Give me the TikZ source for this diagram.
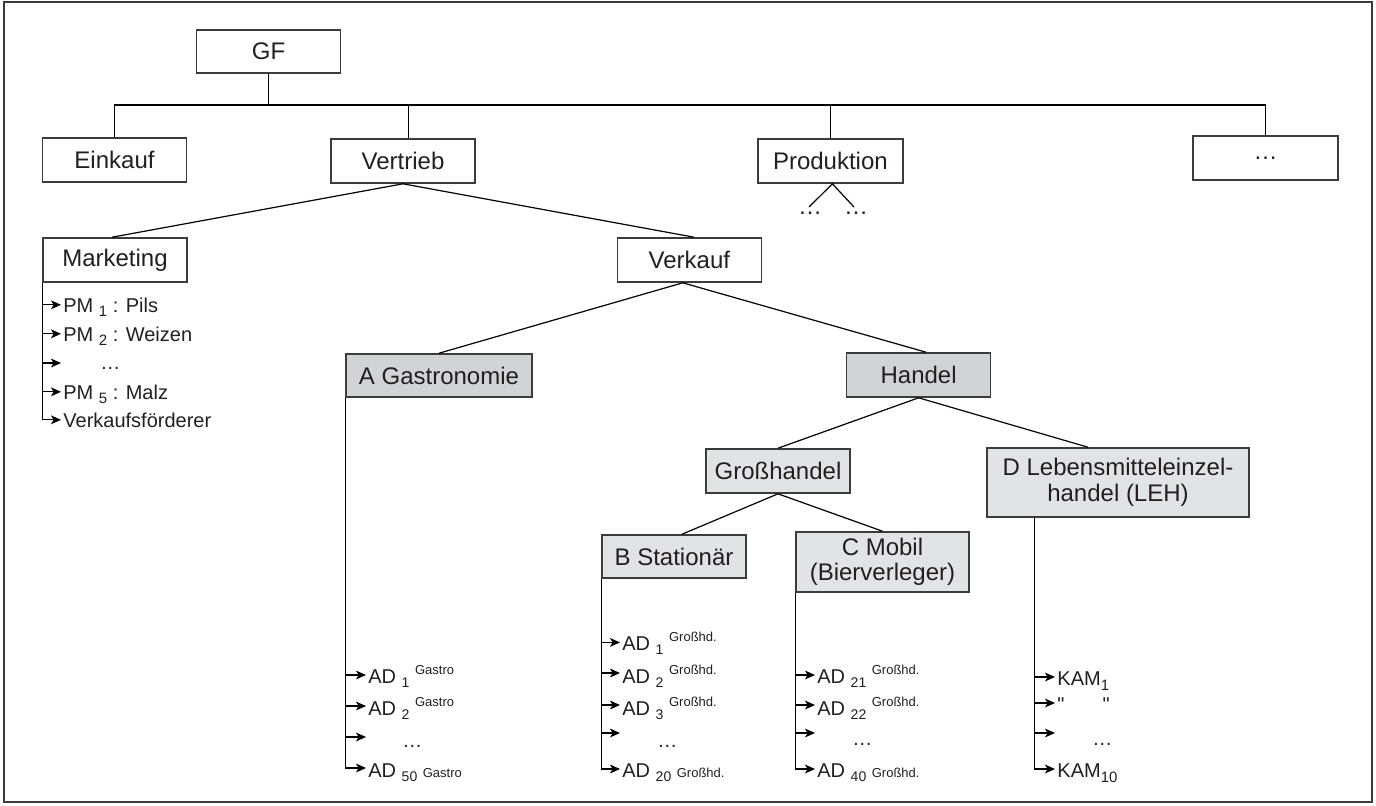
\documentclass[tikz,border=0pt]{standalone}
\usepackage{fontspec}
\setmainfont{Liberation Sans}
\newfontfamily\qf{Liberation Sans}
\usetikzlibrary{arrows.meta}
\definecolor{fa}{RGB}{209,211,212}
\definecolor{fb}{RGB}{226,227,228}
\definecolor{bc}{RGB}{60,60,60}
\definecolor{tc}{RGB}{35,31,32}
\newcommand\mysub[1]{\raisebox{-2pt}{\fontsize{7}{8}\selectfont #1}}
\newcommand\mysup[1]{\raisebox{4.5pt}{\fontsize{6.5}{7}\selectfont #1}}
\newcommand\mysm[1]{{\fontsize{6.5}{7}\selectfont #1}}
\newcommand\mysubp[1]{\raisebox{-2pt}{\fontsize{7.5}{8}\selectfont #1}}
\newcommand\mysubk[1]{\raisebox{-2.5pt}{\fontsize{7.5}{8}\selectfont #1}}
\begin{document}
\begin{tikzpicture}[x=0.5pt,y=-0.5pt,
  every node/.style={text=tc},
  box/.style={draw=bc, line width=0.8pt, inner sep=0pt, align=center, font=\fontsize{12}{12.5}\selectfont},
  con/.style={line width=0.6pt, draw=black},
  arr/.style={line width=0.6pt, draw=black, -{Stealth[length=5pt,width=4.4pt,inset=1.3pt]}},
  lst/.style={anchor=base west, inner sep=0pt, font=\fontsize{10}{11}\selectfont},
  dts/.style={anchor=base west, inner sep=0pt, font=\fontsize{10}{11}\selectfont},
]
\useasboundingbox (0,0) rectangle (1376,805);
\draw[line width=1pt, draw=bc] (4,2) rectangle (1372,802);

% boxes
\node[box, minimum width=72pt, minimum height=21.5pt] (GF) at (268.5,51.5) {GF};
\node[box, minimum width=72pt, minimum height=22pt] (Ein) at (114.5,160) {Einkauf};
\node[box, minimum width=72pt, minimum height=22pt] (Ver) at (403,161) {Vertrieb};
\node[box, minimum width=72.5pt, minimum height=22pt] (Prod) at (830.4,161) {Produktion};
\node[box, minimum width=72.5pt, minimum height=22pt] (Etc) at (1265.5,158) {\dots};
\node[box, minimum width=72pt, minimum height=22pt] (Mk) at (115,260) {Marketing};
\node[box, minimum width=72pt, minimum height=22pt] (Vk) at (689.4,260) {Verkauf};
\node[box, fill=fa, minimum width=93pt, minimum height=21.5pt] (AG) at (439,375.5) {A Gastronomie};
\node[box, fill=fa, minimum width=72pt, minimum height=22pt] (Ha) at (918.6,375) {Handel};
\node[box, fill=fb, minimum width=72pt, minimum height=22pt] (GH) at (778,471) {Großhandel};
\node[box, fill=fb, minimum width=72pt, minimum height=21.5pt] (BS) at (674,556.5) {B Stationär};
\node[box, fill=fb, minimum width=86.5pt, minimum height=30pt] (CM) at (882.5,562) {C Mobil\\(Bierverleger)};
\node[box, fill=fb, minimum width=131pt, minimum height=34.5pt, font=\fontsize{12}{13}\selectfont] (DL) at (1118,482.5) {D Lebensmitteleinzel-\\handel (LEH)};

% top bus
\coordinate (bus) at (0,105);
\draw[con] (GF.south) -- (GF.south |- bus);
\draw[con] (Ein.north) -- (Ein.north |- bus) -- (Etc.north |- bus) -- (Etc.north);
\draw[con] ([xshift=2.7pt]Ver.north) -- ([xshift=2.7pt]Ver.north |- bus);
\draw[con] (Prod.north) -- (Prod.north |- bus);

% tree edges
\draw[con] (Ver.south) -- ([xshift=-1.5pt]Mk.north);
\draw[con] (Ver.south) -- ([xshift=2.3pt]Vk.north);
\draw[con] ([xshift=-3.3pt]Vk.south) -- (AG.north);
\draw[con] ([xshift=-3.3pt]Vk.south) -- ([xshift=3.7pt]Ha.north);
\draw[con] (Ha.south) -- (GH.north);
\draw[con] (Ha.south) -- ([xshift=-15pt]DL.north);
\draw[con] (GH.south) -- ([xshift=4pt]BS.north);
\draw[con] (GH.south) -- (CM.north);

% Produktion dots
\node[anchor=base, inner sep=0pt, font=\fontsize{12}{13}\selectfont] (pd1) at (810,214) {\dots};
\node[anchor=base, inner sep=0pt, font=\fontsize{12}{13}\selectfont] (pd2) at (856,214) {\dots};
\draw[con] ([shift={(-0.5pt,3.5pt)}]pd1.base) -- ([xshift=1pt]Prod.south) -- ([shift={(-1pt,3.5pt)}]pd2.base);

% Marketing list
\node[lst] (m1) at (63,312) {PM \mysubp{1} : Pils};
\node[lst] (m2) at (63,341) {PM \mysubp{2} : Weizen};
\coordinate (m3a) at (61,363);
\node[dts] (m3) at (100,369) {\dots};
\node[lst] (m4) at (63,399) {PM \mysubp{5} : Malz};
\node[lst] (m5) at (63,427) {Verkaufsförderer};
\coordinate (m1a) at ([shift={(-1pt,3.6pt)}]m1.base west);
\coordinate (m2a) at ([shift={(-1pt,3.6pt)}]m2.base west);
\coordinate (m4a) at ([shift={(-1pt,3.6pt)}]m4.base west);
\coordinate (m5a) at ([shift={(-1pt,3.6pt)}]m5.base west);
\draw[arr] (Mk.south west) |- (m5a);
\draw[arr] (m1a -| Mk.south west) -- (m1a);
\draw[arr] (m2a -| Mk.south west) -- (m2a);
\draw[arr] (m3a -| Mk.south west) -- (m3a);
\draw[arr] (m4a -| Mk.south west) -- (m4a);

% Gastro list
\node[lst] (g1) at (368,683) {AD \mysub{1} \mysup{Gastro}};
\node[lst] (g2) at (368,715) {AD \mysub{2} \mysup{Gastro}};
\coordinate (g3a) at (366,737);
\node[dts] (g3) at (402,747) {\dots};
\node[lst] (g4) at (368,777) {AD \mysub{50} \mysm{Gastro}};
\coordinate (g1a) at ([shift={(-1pt,4pt)}]g1.base west);
\coordinate (g2a) at ([shift={(-1pt,4.5pt)}]g2.base west);
\coordinate (g4a) at ([shift={(-1pt,4.5pt)}]g4.base west);
\draw[arr] (AG.south west) |- (g4a);
\draw[arr] (g1a -| AG.south west) -- (g1a);
\draw[arr] (g2a -| AG.south west) -- (g2a);
\draw[arr] (g3a -| AG.south west) -- (g3a);

% B list
\node[lst] (b1) at (622,650) {AD \mysub{1} \mysup{Großhd.}};
\node[lst] (b2) at (622,683) {AD \mysub{2} \mysup{Großhd.}};
\node[lst] (b3) at (622,715) {AD \mysub{3} \mysup{Großhd.}};
\coordinate (b4a) at (620,733);
\node[dts] (b4) at (657,747) {\dots};
\node[lst] (b5) at (622,777) {AD \mysub{20} \mysm{Großhd.}};
\coordinate (b1a) at ([shift={(-1pt,3.8pt)}]b1.base west);
\coordinate (b2a) at ([shift={(-1pt,5pt)}]b2.base west);
\coordinate (b3a) at ([shift={(-1pt,5pt)}]b3.base west);
\coordinate (b5a) at ([shift={(-1pt,4pt)}]b5.base west);
\draw[arr] (BS.south west) |- (b5a);
\draw[arr] (b1a -| BS.south west) -- (b1a);
\draw[arr] (b2a -| BS.south west) -- (b2a);
\draw[arr] (b3a -| BS.south west) -- (b3a);
\draw[arr] (b4a -| BS.south west) -- (b4a);

% C list
\node[lst] (c1) at (817,683) {AD \mysub{21} \mysup{Großhd.}};
\node[lst] (c2) at (817,715) {AD \mysub{22} \mysup{Großhd.}};
\coordinate (c3a) at (815,733);
\node[dts] (c3) at (852,745) {\dots};
\node[lst] (c4) at (817,777) {AD \mysub{40} \mysm{Großhd.}};
\coordinate (c1a) at ([shift={(-1pt,4pt)}]c1.base west);
\coordinate (c2a) at ([shift={(-1pt,5pt)}]c2.base west);
\coordinate (c4a) at ([shift={(-1pt,4pt)}]c4.base west);
\draw[arr] (CM.south west) |- (c4a);
\draw[arr] (c1a -| CM.south west) -- (c1a);
\draw[arr] (c2a -| CM.south west) -- (c2a);
\draw[arr] (c3a -| CM.south west) -- (c3a);

% D list
\coordinate (dl) at ([xshift=24pt]DL.south west);
\node[lst] (k1) at (1057,685) {KAM\mysubk{1}};
\node[lst] (k2) at (1057,711) {{\qf"}\hspace{19pt}{\qf"}};
\coordinate (k3a) at (1055,733);
\node[dts] (k3) at (1092,745) {\dots};
\node[lst] (k4) at (1057,777) {KAM\mysubk{10}};
\coordinate (k1a) at ([shift={(-1pt,4pt)}]k1.base west);
\coordinate (k2a) at ([shift={(-1pt,4pt)}]k2.base west);
\coordinate (k4a) at ([shift={(-1pt,4pt)}]k4.base west);
\draw[arr] (dl) |- (k4a);
\draw[arr] (k1a -| dl) -- (k1a);
\draw[arr] (k2a -| dl) -- (k2a);
\draw[arr] (k3a -| dl) -- (k3a);
\end{tikzpicture}
\end{document}
